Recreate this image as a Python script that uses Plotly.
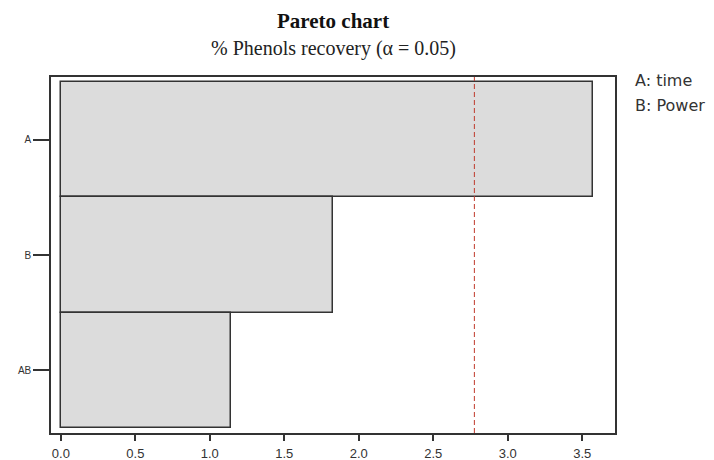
import plotly.graph_objects as go

effects = ["A", "B", "AB"]
t_values = [3.57, 1.83, 1.14]
critical_value = 2.776
x_ticks = [0.0, 0.5, 1.0, 1.5, 2.0, 2.5, 3.0, 3.5]
x_tick_text = ["0.0", "0.5", "1.0", "1.5", "2.0", "2.5", "3.0", "3.5"]
factor_legend = ["A: time", "B: Power"]

fig = go.Figure()
fig.add_trace(go.Bar(
    x=t_values, y=effects, orientation="h",
    marker=dict(color="#dcdcdc", line=dict(color="#333333", width=1.5)),
    width=1.0, hoverinfo="x+y",
))

fig.add_shape(type="line", xref="x", yref="paper",
              x0=critical_value, x1=critical_value, y0=0, y1=1,
              line=dict(color="#c0392b", width=1, dash="5px,3px"))

fig.update_layout(
    width=714, height=460,
    margin=dict(l=51, r=99, t=77, b=27, autoexpand=False),
    plot_bgcolor="white", paper_bgcolor="white",
    showlegend=False, bargap=0,
    xaxis=dict(range=[-0.066, 3.72], tickvals=x_ticks, ticktext=x_tick_text,
               automargin=False, ticklabelstandoff=2,
               showgrid=False, zeroline=False, showline=True, mirror=True,
               linecolor="#333333", linewidth=1.5,
               ticks="outside", ticklen=6, tickcolor="#333333", tickwidth=1.5,
               tickfont=dict(family="Liberation Sans, Arial", size=13, color="#333333")),
    yaxis=dict(type="category", categoryorder="array", categoryarray=effects,
               range=[2.543, -0.543], automargin=False,
               showgrid=False, zeroline=False, showline=True, mirror=True,
               linecolor="#333333", linewidth=1.5,
               ticks="outside", ticklen=16, tickcolor="#333333", tickwidth=1.5,
               tickfont=dict(family="Liberation Sans, Arial", size=10, color="#333333")),
)

fig.add_annotation(text="<b>Pareto chart</b>", xref="paper", yref="paper",
                   x=0.5, y=1, yshift=56, showarrow=False, xanchor="center", yanchor="middle",
                   font=dict(family="Liberation Serif, Times New Roman", size=21, color="#111111"))
fig.add_annotation(text="% Phenols recovery (α = 0.05)", xref="paper", yref="paper",
                   x=0.5, y=1, yshift=29, showarrow=False, xanchor="center", yanchor="middle",
                   font=dict(family="Liberation Serif, Times New Roman", size=20, color="#222222"))
for i, txt in enumerate(factor_legend):
    fig.add_annotation(text=txt, xref="paper", yref="paper",
                       x=1, xshift=18, y=1, yshift=-3 - 25 * i, showarrow=False,
                       xanchor="left", yanchor="middle",
                       font=dict(family="DejaVu Sans, Verdana", size=16, color="#333333"))

fig.write_html("out.html")
